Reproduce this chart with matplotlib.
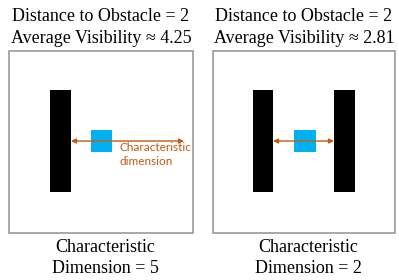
import matplotlib
matplotlib.use("Agg")
import matplotlib.pyplot as plt
from matplotlib.patches import Rectangle

# Data
distance_to_obstacle = [2, 2]
average_visibility = [4.25, 2.81]
characteristic_dimension = [5, 2]

W, H = 399, 280
fig = plt.figure(figsize=(W / 100, H / 100), dpi=100)
ax = fig.add_axes([0, 0, 1, 1])
ax.set_xlim(0, W)
ax.set_ylim(H, 0)
ax.axis("off")

serif = "Liberation Serif"
orange = "#C55A11"
blue = "#00B0F0"

# panel layout (pixels)
boxes = [(9, 51, 184, 182), (213, 51, 182, 182)]
centers = [101, 304]
bars = [[(50, 90, 21, 102)], [(253, 90, 20, 102), (334, 90, 21, 102)]]
squares = [(91, 130, 21, 22), (294, 130, 22, 22)]
arrows = [(71, 184, 141), (273, 334, 141)]

for i in range(2):
    x, y, w, h = boxes[i]
    ax.add_patch(Rectangle((x, y), w, h, facecolor="white", edgecolor="#9a9a9a", lw=1.2))
    for (bx, by, bw, bh) in bars[i]:
        ax.add_patch(Rectangle((bx, by), bw, bh, facecolor="black", edgecolor="none"))
    sx, sy, sw, sh = squares[i]
    ax.add_patch(Rectangle((sx, sy), sw, sh, facecolor=blue, edgecolor="none"))
    x0, x1, ya = arrows[i]
    ax.annotate("", xy=(x1, ya), xytext=(x0, ya),
                arrowprops=dict(arrowstyle="<|-|>", color=orange, lw=1.0,
                                mutation_scale=7, shrinkA=0, shrinkB=0))
    cx = centers[i]
    ax.text(cx, 21, f"Distance to Obstacle = {distance_to_obstacle[i]}",
            ha="center", va="baseline", family=serif, fontsize=13)
    ax.text(cx, 43, f"Average Visibility \u2248 {average_visibility[i]:.2f}",
            ha="center", va="baseline", family=serif, fontsize=13)
    ax.text(cx + 4, 252, "Characteristic", ha="center", va="baseline",
            family=serif, fontsize=13)
    ax.text(cx + 4, 273, f"Dimension = {characteristic_dimension[i]}",
            ha="center", va="baseline", family=serif, fontsize=13)

ax.text(120, 151, "Characteristic", ha="left", va="baseline",
        family="Lato", fontsize=8.5, color=orange)
ax.text(120, 165, "dimension", ha="left", va="baseline",
        family="Lato", fontsize=8.5, color=orange)

fig.savefig("out.png", dpi=100)
